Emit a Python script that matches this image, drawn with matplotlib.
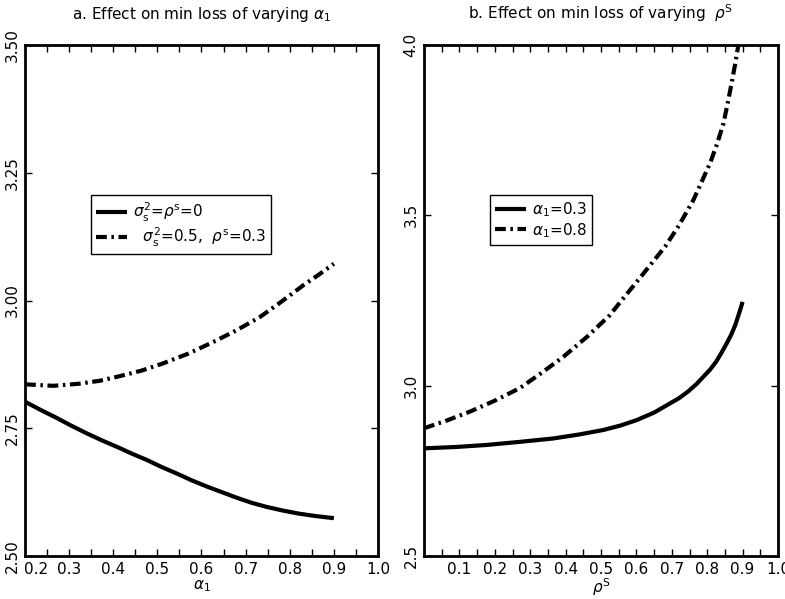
import numpy as np
import matplotlib
matplotlib.use("Agg")
import matplotlib.pyplot as plt
import matplotlib.transforms as mtransforms

plt.rcParams['font.family'] = ['DejaVu Sans']
plt.rcParams['mathtext.fontset'] = 'dejavusans'

# panel a: min loss against alpha_1
alpha1_solid = [0.20, 0.235, 0.27, 0.305, 0.34, 0.375, 0.41, 0.443, 0.476, 0.51, 0.545,
                0.578, 0.612, 0.646, 0.68, 0.714, 0.748, 0.784, 0.82, 0.86, 0.90]
loss_a0 = [2.802, 2.786, 2.771, 2.755, 2.740, 2.726, 2.713, 2.700, 2.688, 2.674, 2.661,
           2.648, 2.636, 2.625, 2.614, 2.604, 2.596, 2.589, 2.583, 2.578, 2.574]
alpha1_dash = [0.20, 0.264, 0.321, 0.37, 0.415, 0.465, 0.513, 0.57, 0.627, 0.68, 0.733,
               0.78, 0.831, 0.865, 0.90]
loss_a1 = [2.836, 2.833, 2.837, 2.843, 2.852, 2.863, 2.877, 2.896, 2.919, 2.942, 2.968,
           2.997, 3.030, 3.050, 3.072]

# panel b: min loss against rho^S
rho_solid = [0.0, 0.09, 0.177, 0.27, 0.365, 0.44, 0.507, 0.555, 0.601, 0.65, 0.695, 0.72,
             0.745, 0.77, 0.789, 0.808, 0.825, 0.84, 0.855, 0.868, 0.88, 0.89, 0.90]
loss_b03 = [2.816, 2.820, 2.826, 2.835, 2.845, 2.857, 2.870, 2.883, 2.899, 2.921, 2.948, 2.963,
            2.982, 3.005, 3.026, 3.047, 3.070, 3.096, 3.124, 3.150, 3.180, 3.212, 3.246]
rho_dash = [0.0, 0.065, 0.130, 0.20, 0.271, 0.33, 0.394, 0.46, 0.525, 0.558, 0.605, 0.681,
            0.72, 0.761, 0.785, 0.808, 0.828, 0.846, 0.858, 0.869, 0.879, 0.888, 0.90]
loss_b08 = [2.875, 2.898, 2.924, 2.956, 2.993, 3.036, 3.085, 3.143, 3.207, 3.250, 3.310, 3.408,
            3.470, 3.545, 3.600, 3.653, 3.710, 3.770, 3.830, 3.888, 3.944, 4.000, 4.060]

dashdot = (0, (2.6, 1.1, 0.6, 1.1))

fig = plt.figure(figsize=(7.85, 5.99), dpi=100)
ax1 = fig.add_axes([25 / 785, 43 / 599, 353 / 785, 511 / 599])
ax2 = fig.add_axes([424 / 785, 43 / 599, 354 / 785, 511 / 599])

ax1.plot(alpha1_solid, loss_a0, color='black', lw=3, solid_capstyle='butt',
         solid_joinstyle='round',
         label=r'$\sigma_{\mathrm{s}}^2$=$\rho^{\mathrm{s}}$=0')
ax1.plot(alpha1_dash, loss_a1, color='black', lw=3, linestyle=dashdot, dash_capstyle='butt',
         label=r'  $\sigma_{\mathrm{s}}^2$=0.5,  $\rho^{\mathrm{s}}$=0.3')

ax2.plot(rho_solid, loss_b03, color='black', lw=3, solid_capstyle='butt',
         solid_joinstyle='round', label=r'$\alpha_1$=0.3')
ax2.plot(rho_dash, loss_b08, color='black', lw=3, linestyle=dashdot, dash_capstyle='butt',
         label=r'$\alpha_1$=0.8')

ax1.set_xlim(0.2, 1.0)
ax1.set_ylim(2.5, 3.5)
ax1.set_xticks(np.arange(0.2, 1.001, 0.1))
ax1.set_xticklabels(['0.2', '0.3', '0.4', '0.5', '0.6', '0.7', '0.8', '0.9', '1.0'])
ax1.set_xticks(np.arange(0.25, 1.0, 0.1), minor=True)
ax1.set_yticks([2.5, 2.75, 3.0, 3.25, 3.5])
ax1.set_yticklabels(['2.50', '2.75', '3.00', '3.25', '3.50'])
ax1.set_xlabel(r'$\alpha_1$', fontsize=11, labelpad=1)
ax1.set_title(r'a. Effect on min loss of varying $\alpha_1$', fontsize=11, pad=19)

ax2.set_xlim(0.0, 1.0)
ax2.set_ylim(2.5, 4.0)
ax2.set_xticks(np.arange(0.1, 1.001, 0.1))
ax2.set_xticklabels(['0.1', '0.2', '0.3', '0.4', '0.5', '0.6', '0.7', '0.8', '0.9', '1.0'])
ax2.set_xticks(np.arange(0.05, 1.0, 0.1), minor=True)
ax2.set_yticks([2.5, 3.0, 3.5, 4.0])
ax2.set_yticklabels(['2.5', '3.0', '3.5', '4.0'])
ax2.set_xlabel(r'$\rho^{\mathrm{S}}$', fontsize=11, labelpad=0)
ax2.set_title(r'b. Effect on min loss of varying  $\rho^{\mathrm{S}}$', fontsize=11, pad=19)

for ax in (ax1, ax2):
    for sp in ax.spines.values():
        sp.set_linewidth(2)
    ax.tick_params(axis='both', which='both', direction='in', top=True, right=True,
                   length=5, width=1, labelsize=11)
    ax.tick_params(axis='x', pad=4)
    ax.tick_params(axis='y', pad=4)
    for lab in ax.get_yticklabels():
        lab.set_rotation(90)
        lab.set_va('center')
    leg = ax.legend(loc='upper left', bbox_to_anchor=(0.186, 0.706), fontsize=11,
                    handlelength=2.0, handletextpad=0.4, labelspacing=0.1,
                    borderpad=0.35, fancybox=False, framealpha=1, borderaxespad=0)
    leg.get_frame().set_edgecolor('black')
    leg.get_frame().set_linewidth(1)

# first label on panel a sits just right of its tick
shift = mtransforms.ScaledTranslation(8 / 72, 0, fig.dpi_scale_trans)
first = ax1.get_xticklabels()[0]
first.set_transform(first.get_transform() + shift)

fig.savefig('out.png', dpi=100)
